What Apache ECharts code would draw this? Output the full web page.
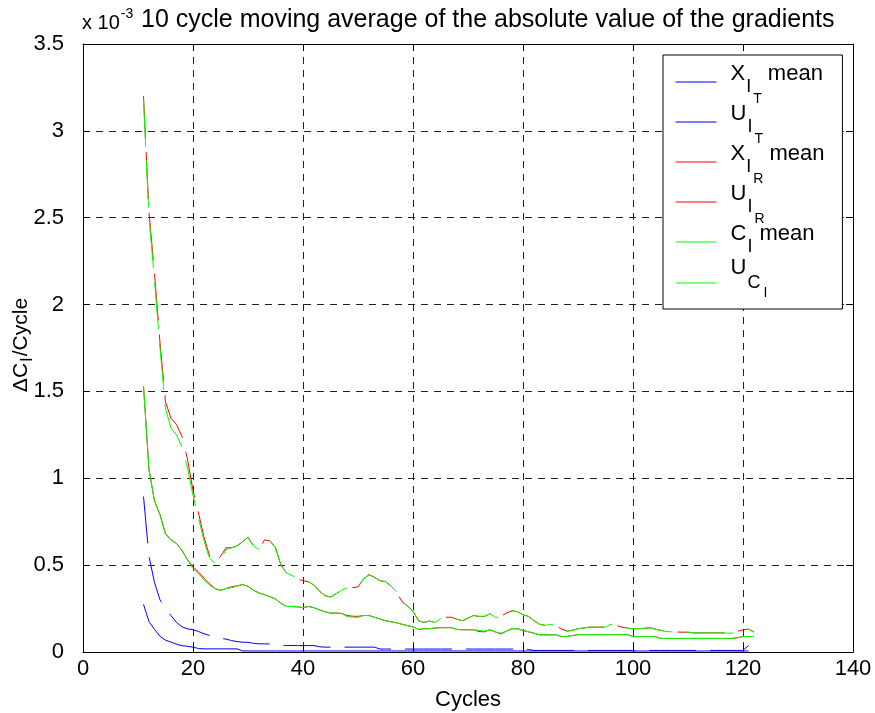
<!DOCTYPE html>
<html>
<head>
<meta charset="utf-8">
<style>
  html, body { margin: 0; padding: 0; background: #fff; }
  #chart { width: 875px; height: 713px; }
</style>
<script src="https://cdn.jsdelivr.net/npm/echarts@6/dist/echarts.min.js"></script>
</head>
<body>
<div id="chart"></div>
<script>
// Cycle index of every sample (10-cycle moving average starts at cycle 11)
const cycles = [
  11,12,13,14,15,16,17,18,19,20,21,22,23,24,25,26,27,28,29,30,
  31,32,33,34,35,36,37,38,39,40,41,42,43,44,45,46,47,48,49,50,
  51,52,53,54,55,56,57,58,59,60,61,62,63,64,65,66,67,68,69,70,
  71,72,73,74,75,76,77,78,79,80,81,82,83,84,85,86,87,88,89,90,
  91,92,93,94,95,96,97,98,99,100,101,102,103,104,105,106,107,108,109,110,
  111,112,113,114,115,116,117,118,119,120,121,122
];

// Values are in units of 1e-3 (see the "x 10^-3" axis multiplier)
// Blue, T quantities
const xTMean = [
  0.274,0.175,0.13,0.09,0.068,0.057,0.045,0.036,0.033,0.028,0.02,0.018,0.018,0.018,0.018,0.018,0.018,0.018,0.006,0.006,
  0.006,0.006,0.006,0.006,0.006,0.006,0.006,0.006,0.006,0.006,0.006,0.006,0.006,0.006,0.006,0.006,0.006,0.006,0.006,0.006,
  0.006,0.006,0.006,0.006,0.006,0.006,0.006,0.006,0.006,0.006,0.006,0.006,0.006,0.006,0.006,0.006,0.006,0.006,0.006,0.006,
  0.006,0.006,0.006,0.006,0.006,0.006,0.006,0.006,0.006,0.006,0.006,0.006,0.006,0.006,0.006,0.006,0.006,0.006,0.006,0.006,
  0.006,0.006,0.006,0.006,0.006,0.006,0.006,0.006,0.006,0.006,0.006,0.006,0.006,0.006,0.006,0.006,0.006,0.006,0.006,0.006,
  0.006,0.006,0.006,0.006,0.006,0.006,0.006,0.006,0.006,0.006,0.006,null
];
const uT = [
  0.895,0.55,0.40,0.30,0.25,0.21,0.17,0.145,0.133,0.128,0.118,0.105,0.095,0.088,0.08,0.074,0.066,0.06,0.056,0.056,
  0.05,0.047,0.047,0.046,0.042,0.039,0.037,0.037,0.037,0.037,0.037,0.037,0.03,0.028,0.028,0.028,0.028,0.028,0.028,0.028,
  0.028,0.028,0.028,0.017,0.017,0.017,0.017,0.017,0.017,0.017,0.017,0.017,0.017,0.017,0.017,0.017,0.017,0.017,0.017,0.017,
  0.017,0.017,0.017,0.017,0.017,0.017,0.017,0.017,0.017,0.017,0.014,0.009,0.009,0.009,0.009,0.009,0.009,0.009,0.009,0.009,
  0.009,0.009,0.009,0.009,0.009,0.009,0.009,0.009,0.009,0.009,0.009,0.009,0.009,0.009,0.009,0.009,0.009,0.009,0.009,0.009,
  0.009,0.009,0.009,0.009,0.009,0.009,0.009,0.009,0.009,0.009,0.037,null
];

// Red, R quantities
const xRMean = [
  1.53,1.05,0.87,0.79,0.68,0.645,0.625,0.585,0.53,0.49,0.46,0.425,0.392,0.365,0.355,0.365,0.376,0.38,0.388,0.378,
  0.355,0.34,0.33,0.318,0.305,0.28,0.262,0.262,0.26,0.255,0.262,0.255,0.242,0.232,0.224,0.224,0.222,0.21,0.206,0.205,
  0.21,0.21,0.20,0.19,0.18,0.174,0.168,0.16,0.152,0.145,0.13,0.134,0.134,0.138,0.14,0.14,0.14,0.13,0.128,0.128,
  0.128,0.118,0.116,0.128,0.115,0.104,0.12,0.134,0.134,0.124,0.116,0.108,0.099,0.099,0.099,0.099,0.089,0.089,0.095,0.10,
  0.10,0.10,0.10,0.10,0.10,0.10,0.10,0.10,0.10,0.089,0.089,0.089,0.089,0.089,0.078,0.078,0.078,0.078,0.078,0.078,
  0.078,0.078,0.078,0.078,0.078,0.078,0.078,0.078,0.082,0.089,0.089,0.089
];
const uR = [
  3.20,2.53,2.18,1.78,1.44,1.345,1.31,1.24,1.11,0.93,0.80,0.66,0.555,0.515,0.55,0.60,0.60,0.61,0.635,0.66,
  0.61,0.59,0.645,0.64,0.60,0.50,0.455,0.44,0.42,0.41,0.405,0.385,0.35,0.325,0.316,0.335,0.355,0.37,0.37,0.375,
  0.42,0.445,0.43,0.41,0.405,0.38,0.345,0.29,0.265,0.235,0.18,0.17,0.178,0.17,0.192,0.20,0.20,0.188,0.18,0.195,
  0.21,0.205,0.205,0.22,0.198,0.205,0.225,0.237,0.232,0.214,0.205,0.18,0.16,0.153,0.16,0.15,0.133,0.12,0.125,0.134,
  0.138,0.143,0.143,0.143,0.143,0.16,0.153,0.143,0.137,0.134,0.134,0.136,0.14,0.132,0.125,0.118,0.116,0.115,0.114,0.114,
  0.11,0.11,0.11,0.11,0.11,0.11,0.109,0.108,0.118,0.128,0.132,0.114
];

// Green, combined quantities
const cMean = [
  1.53,1.05,0.87,0.79,0.68,0.645,0.625,0.585,0.53,0.48,0.45,0.415,0.385,0.365,0.355,0.365,0.37,0.38,0.388,0.378,
  0.355,0.34,0.33,0.318,0.305,0.28,0.262,0.262,0.26,0.255,0.262,0.255,0.242,0.232,0.224,0.224,0.222,0.205,0.20,0.20,
  0.21,0.21,0.20,0.19,0.18,0.174,0.168,0.16,0.152,0.145,0.13,0.134,0.134,0.138,0.14,0.14,0.14,0.13,0.128,0.128,
  0.128,0.124,0.12,0.128,0.115,0.108,0.12,0.134,0.134,0.124,0.116,0.108,0.099,0.099,0.099,0.099,0.089,0.089,0.095,0.10,
  0.10,0.10,0.10,0.10,0.10,0.10,0.10,0.10,0.10,0.089,0.089,0.089,0.089,0.089,0.078,0.078,0.078,0.078,0.078,0.078,
  0.078,0.078,0.078,0.078,0.078,0.078,0.078,0.078,0.082,0.089,0.089,0.089
];
const uC = [
  3.18,2.50,2.14,1.75,1.40,1.29,1.25,1.18,1.06,0.90,0.77,0.64,0.54,0.51,0.53,0.59,0.60,0.61,0.635,0.66,
  0.61,0.59,0.635,0.64,0.60,0.50,0.455,0.44,0.42,0.41,0.405,0.385,0.35,0.325,0.316,0.335,0.355,0.37,0.37,0.375,
  0.42,0.445,0.43,0.41,0.405,0.38,0.345,0.29,0.265,0.235,0.18,0.17,0.178,0.17,0.192,0.20,0.20,0.188,0.18,0.195,
  0.21,0.205,0.205,0.22,0.198,0.205,0.225,0.237,0.232,0.214,0.205,0.18,0.16,0.153,0.16,0.15,0.133,0.12,0.125,0.134,
  0.138,0.143,0.143,0.143,0.143,0.16,0.153,0.143,0.137,0.134,0.134,0.136,0.14,0.132,0.125,0.118,0.116,0.115,0.114,0.114,
  0.11,0.11,0.11,0.11,0.11,0.11,0.109,0.108,0.118,0.128,0.132,0.114
];

const xTicks = [0, 20, 40, 60, 80, 100, 120, 140];
const yTicks = [0, 0.5, 1, 1.5, 2, 2.5, 3, 3.5];

const FONT = 'Liberation Sans, Arial, Helvetica, sans-serif';
const BLUE = '#0000ff', RED = '#ff0000', GREEN = '#00ff00';
const DASH = [47, 14];

function pairs(vals) {
  return cycles.map((c, i) => [c, vals[i]]);
}

// Legend labels: fixed rows; main glyph lifted, subscripts lowered
const ROW = 36;
const legendRich = {
  g:   { width: 9, height: ROW, lineHeight: ROW },
  m:   { fontSize: 22, fontFamily: FONT, color: '#000', lineHeight: ROW, height: 20, verticalAlign: 'top' },
  s:   { fontSize: 18, fontFamily: FONT, color: '#000', lineHeight: ROW, height: 26, verticalAlign: 'bottom', padding: [0, 1, 0, 1] },
  ss:  { fontSize: 14, fontFamily: FONT, color: '#000', lineHeight: ROW, height: 2, verticalAlign: 'bottom', padding: [0, 0, 0, 1] },
  m6:  { fontSize: 22, fontFamily: FONT, color: '#000', lineHeight: ROW, height: 6, verticalAlign: 'top' },
  s6:  { fontSize: 18, fontFamily: FONT, color: '#000', lineHeight: ROW, verticalAlign: 'middle', padding: [0, 2, 0, 1] },
  ss6: { fontSize: 14, fontFamily: FONT, color: '#000', lineHeight: ROW, height: 16, verticalAlign: 'bottom', padding: [0, 0, 0, 1] }
};
const legendLabels = {
  'X_I^T mean': '{g| }{m|X}{s|I}{ss|T}{m| mean}',
  'U_I^T':      '{g| }{m|U}{s|I}{ss|T}',
  'X_I^R mean': '{g| }{m|X}{s|I}{ss|R}{m| mean}',
  'U_I^R':      '{g| }{m|U}{s|I}{ss|R}',
  'C_I mean':   '{g| }{m|C}{s|I}{m| mean}',
  'U_C_I':      '{g| }{m6|U}{s6|C}{ss6|I}'
};

function lineSeries(name, vals, color, dashed, dashOffset) {
  return {
    name: name,
    type: 'line',
    data: pairs(vals),
    showSymbol: false,
    symbol: 'none',
    animation: false,
    xAxisIndex: 0,
    yAxisIndex: 0,
    lineStyle: {
      color: color,
      width: 1,
      type: dashed ? DASH : 'solid',
      dashOffset: dashOffset || 0
    },
    itemStyle: { color: color },
    emphasis: { disabled: true }
  };
}

const chart = echarts.init(document.getElementById('chart'), null, { renderer: 'canvas' });

const gridLine = { show: true, lineStyle: { color: '#222', width: 1, type: [7, 6] } };
const axisLineStyle = { show: true, onZero: false, lineStyle: { color: '#000', width: 1 } };
const tickIn = { show: true, inside: true, length: 7, lineStyle: { color: '#000', width: 1 } };

chart.setOption({
  backgroundColor: '#fff',
  animation: false,
  title: {
    text: '10 cycle moving average of the absolute value of the gradients',
    left: 136,
    top: 3,
    textStyle: { fontFamily: FONT, fontSize: 25, fontWeight: 'normal', color: '#000' }
  },
  graphic: [{
    // axis multiplier above the y axis
    type: 'text',
    left: 82,
    top: 5,
    style: {
      text: '{a|x 10}{b|-3}',
      rich: {
        a: { fontFamily: FONT, fontSize: 20, color: '#000', lineHeight: 30, padding: [8, 0, 0, 0] },
        b: { fontFamily: FONT, fontSize: 14, color: '#000', lineHeight: 30, padding: [0, 0, 10, 1] }
      }
    }
  }, {
    // y axis title, reading bottom to top
    type: 'text',
    x: 21,
    y: 345,
    rotation: Math.PI / 2,
    style: {
      text: '{a|ΔC}{s|I}{a|/Cycle}',
      align: 'center',
      verticalAlign: 'middle',
      rich: {
        a: { fontFamily: FONT, fontSize: 21, color: '#000', lineHeight: 26 },
        s: { fontFamily: FONT, fontSize: 17, color: '#000', lineHeight: 26, padding: [12, 1, 0, 1] }
      }
    }
  }],
  grid: { left: 83, right: 22, top: 44, bottom: 61, containLabel: false, outerBoundsMode: 'none' },
  legend: {
    orient: 'vertical',
    left: 663,
    top: 55,
    padding: [8, 18, 8, 12],
    itemGap: -3,
    itemWidth: 41,
    itemHeight: 1,
    backgroundColor: '#fff',
    borderColor: '#000',
    borderWidth: 1,
    borderRadius: 0,
    selectedMode: false,
    lineStyle: { type: 'solid', width: 1 },
    data: ['X_I^T mean', 'U_I^T', 'X_I^R mean', 'U_I^R', 'C_I mean', 'U_C_I'],
    formatter: function (name) { return legendLabels[name]; },
    textStyle: { rich: legendRich, fontFamily: FONT, fontSize: 22, color: '#000' }
  },
  xAxis: [{
    type: 'value',
    min: xTicks[0],
    max: xTicks[xTicks.length - 1],
    interval: 20,
    position: 'bottom',
    name: 'Cycles',
    nameLocation: 'middle',
    nameGap: 37,
    nameTextStyle: { fontFamily: FONT, fontSize: 22, color: '#000' },
    axisLine: axisLineStyle,
    axisTick: tickIn,
    axisLabel: { fontFamily: FONT, fontSize: 22, color: '#000', margin: 6 },
    splitLine: gridLine
  }, {
    type: 'value',
    min: xTicks[0],
    max: xTicks[xTicks.length - 1],
    interval: 20,
    position: 'top',
    axisLine: axisLineStyle,
    axisTick: tickIn,
    axisLabel: { show: false },
    splitLine: { show: false }
  }],
  yAxis: [{
    type: 'value',
    min: yTicks[0],
    max: yTicks[yTicks.length - 1],
    interval: 0.5,
    position: 'left',
    axisLine: axisLineStyle,
    axisTick: tickIn,
    axisLabel: { fontFamily: FONT, fontSize: 22, color: '#000', margin: 19 },
    splitLine: gridLine
  }, {
    type: 'value',
    min: yTicks[0],
    max: yTicks[yTicks.length - 1],
    interval: 0.5,
    position: 'right',
    axisLine: axisLineStyle,
    axisTick: tickIn,
    axisLabel: { show: false },
    splitLine: { show: false }
  }],
  series: [
    lineSeries('X_I^T mean', xTMean, BLUE, false),
    lineSeries('U_I^T', uT, BLUE, true),
    lineSeries('X_I^R mean', xRMean, RED, false),
    lineSeries('U_I^R', uR, RED, true, 5),
    lineSeries('C_I mean', cMean, GREEN, false),
    lineSeries('U_C_I', uC, GREEN, true)
  ]
});
</script>
</body>
</html>
